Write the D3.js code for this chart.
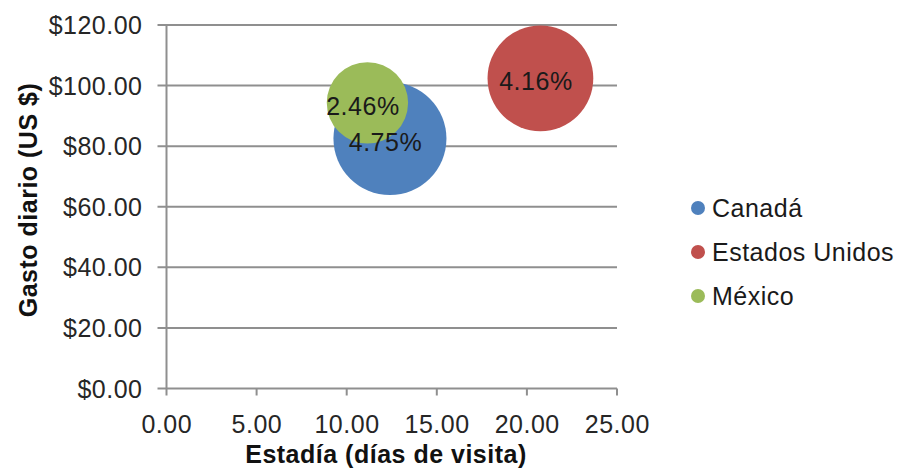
<!DOCTYPE html>
<html>
<head>
<meta charset="utf-8">
<script src="https://cdn.jsdelivr.net/npm/d3@7"></script>
<style>
  html, body { margin: 0; padding: 0; background: #fff; }
  svg { display: block; }
  text { font-family: "Liberation Sans", Arial, Helvetica, sans-serif; letter-spacing: 0.5px; }
</style>
</head>
<body>
<svg id="chart" width="900" height="474"></svg>
<script>
// Countries, average stay (days), daily spend (US$) and share (%) shown as bubble size
const countries = ["Canadá", "Estados Unidos", "México"];
const stayDays = [12.4, 20.75, 11.15];
const dailySpend = [82.5, 102.4, 94.3];
const shareLabels = ["4.75%", "4.16%", "2.46%"];
const shareValues = [4.75, 4.16, 2.46];
const colors = ["#4F81BD", "#C0504D", "#9BBB59"];
const xTicks = [0, 5, 10, 15, 20, 25];
const yTicks = [0, 20, 40, 60, 80, 100, 120];

const svg = d3.select("#chart");
const fontSize = 25;

const x = d3.scaleLinear().domain([0, 25]).range([166.5, 617]);
const y = d3.scaleLinear().domain([0, 120]).range([388.5, 25]);
const r = d3.scaleSqrt().domain([0, 4.75]).range([0, 56.5]);

const gridColor = "#8f8f8f";

// Horizontal gridlines (extending slightly left of the value axis)
svg.append("g")
  .selectAll("line")
  .data(yTicks)
  .join("line")
  .attr("x1", x(0) - 9)
  .attr("x2", x(25))
  .attr("y1", d => y(d))
  .attr("y2", d => y(d))
  .attr("stroke", gridColor)
  .attr("stroke-width", 2);

// Vertical value axis line
svg.append("line")
  .attr("x1", x(0)).attr("x2", x(0))
  .attr("y1", y(120)).attr("y2", y(0) + 7)
  .attr("stroke", gridColor)
  .attr("stroke-width", 2);

// X axis tick marks
svg.append("g")
  .selectAll("line")
  .data(xTicks.slice(1))
  .join("line")
  .attr("x1", d => x(d)).attr("x2", d => x(d))
  .attr("y1", y(0)).attr("y2", y(0) + 7)
  .attr("stroke", gridColor)
  .attr("stroke-width", 2);

// Y tick labels
const fmtMoney = d => "$" + d3.format(".2f")(d);
svg.append("g")
  .selectAll("text")
  .data(yTicks)
  .join("text")
  .attr("x", 142.5)
  .attr("y", d => y(d))
  .attr("dy", "0.36em")
  .attr("text-anchor", "end")
  .attr("font-size", fontSize)
  .attr("fill", "#262626")
  .text(fmtMoney);

// X tick labels
svg.append("g")
  .selectAll("text")
  .data(xTicks)
  .join("text")
  .attr("x", d => x(d) + 0.3)
  .attr("y", 433)
  .attr("text-anchor", "middle")
  .attr("font-size", fontSize)
  .attr("fill", "#262626")
  .text(d => d3.format(".2f")(d));

// Axis titles
svg.append("text")
  .attr("x", 386)
  .attr("y", 463)
  .attr("text-anchor", "middle")
  .attr("font-size", fontSize)
  .attr("font-weight", "bold")
  .attr("fill", "#111")
  .text("Estadía (días de visita)");

svg.append("text")
  .attr("transform", "translate(37,200) rotate(-90)")
  .attr("text-anchor", "middle")
  .attr("font-size", fontSize)
  .attr("font-weight", "bold")
  .attr("fill", "#111")
  .text("Gasto diario (US $)");

// Bubbles
const data = countries.map((c, i) => ({
  name: c, x: stayDays[i], y: dailySpend[i], size: shareValues[i],
  label: shareLabels[i], color: colors[i]
}));

svg.append("g")
  .selectAll("circle")
  .data(data)
  .join("circle")
  .attr("cx", d => x(d.x))
  .attr("cy", d => y(d.y))
  .attr("r", d => r(d.size))
  .attr("fill", d => d.color);

// Bubble data labels
svg.append("g")
  .selectAll("text")
  .data(data)
  .join("text")
  .attr("x", d => x(d.x) - 4.5)
  .attr("y", d => y(d.y) + 3)
  .attr("dy", "0.36em")
  .attr("text-anchor", "middle")
  .attr("font-size", fontSize)
  .attr("fill", "#1a1a1a")
  .text(d => d.label);

// Legend
const legend = svg.append("g")
  .selectAll("g")
  .data(data)
  .join("g")
  .attr("transform", (d, i) => `translate(698,${208 + i * 44})`);

legend.append("circle")
  .attr("r", 7)
  .attr("fill", d => d.color);

legend.append("text")
  .attr("x", 14)
  .attr("dy", "0.36em")
  .attr("font-size", fontSize)
  .attr("fill", "#1a1a1a")
  .text(d => d.name);
</script>
</body>
</html>
